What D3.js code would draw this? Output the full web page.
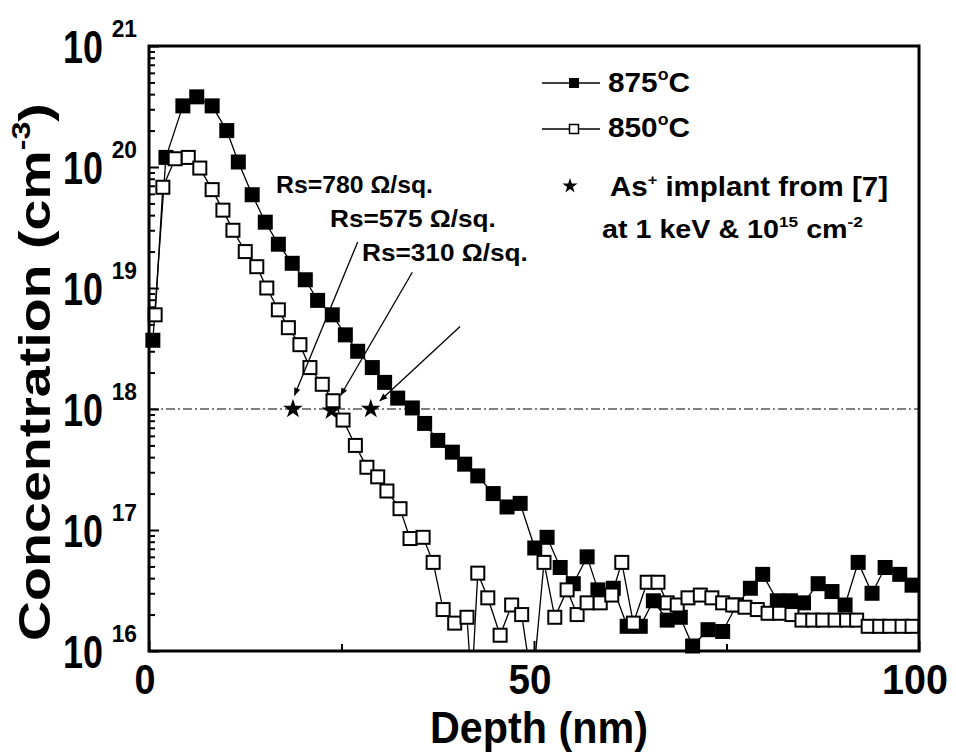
<!DOCTYPE html>
<html>
<head>
<meta charset="utf-8">
<script src="https://cdn.jsdelivr.net/npm/d3@7"></script>
<style>
  body { margin: 0; background: #fff; }
  svg { display: block; }
</style>
</head>
<body>
<div id="chart"></div>
<script>
// depth profiles (nm, cm^-3)
var depth875 = [0.5, 2.2, 4.4, 6.2, 8.2, 10.1, 11.6, 13.4, 15.1, 16.8,
  18.6, 20.3, 21.9, 23.8, 25.5, 27.1, 29.0, 30.6, 32.3, 34.2,
  35.8, 37.5, 39.4, 41.0, 42.7, 44.7, 46.5, 48.2, 50.1, 51.7,
  53.4, 55.1, 56.9, 58.3, 60.3, 62.1, 63.8, 65.5, 67.3, 69.0,
  70.6, 72.6, 74.5, 76.3, 78.1, 79.7, 81.6, 83.3, 85.0, 86.9,
  88.7, 90.4, 92.1, 93.9, 95.6, 97.5, 99.1];
var conc875 = [3.7e18, 1.2e20, 3.2e20, 3.8e20, 3.2e20, 2.0e20, 1.1e20, 5.9e19, 3.5e19, 2.3e19,
  1.6e19, 1.17e19, 7.9e18, 6.0e18, 4.1e18, 3.0e18, 2.2e18, 1.66e18, 1.23e18, 1.02e18,
  7.6e17, 5.5e17, 4.4e17, 3.5e17, 2.8e17, 2.0e17, 1.55e17, 1.66e17, 7.1e16, 8.7e16,
  4.9e16, 3.6e16, 6.0e16, 3.2e16, 3.3e16, 1.6e16, 1.6e16, 2.6e16, 1.8e16, 1.9e16,
  1.1e16, 1.5e16, 1.45e16, 2.4e16, 3.3e16, 4.3e16, 2.6e16, 2.6e16, 2.5e16, 3.6e16,
  3.1e16, 2.4e16, 5.4e16, 3.0e16, 4.9e16, 4.3e16, 3.5e16];

var depth850 = [0.8, 1.8, 3.4, 5.1, 6.6, 8.2, 9.6, 10.9, 12.5, 14.0,
  15.3, 16.8, 18.1, 19.6, 20.9, 22.5, 23.9, 25.2, 26.8, 28.3,
  29.7, 30.9, 32.6, 33.9, 35.6, 36.9, 38.2, 39.7, 41.3, 41.9,
  42.7, 44.0, 45.6, 47.1, 48.4, 49.8, 51.3, 52.7, 54.3, 55.6,
  56.9, 58.6, 60.1, 61.4, 62.9, 64.7, 66.1, 67.3, 68.6, 70.0,
  71.6, 73.1, 74.5, 75.8, 77.4, 79.0, 80.4, 81.9, 83.5, 84.8,
  86.2, 87.5, 89.1, 90.6, 91.9, 93.4, 94.9, 96.2, 97.8, 99.1];
var conc850 = [6.0e18, 6.8e19, 1.17e20, 1.2e20, 9.8e19, 6.5e19, 4.4e19, 3.0e19, 2.0e19, 1.5e19,
  1.0e19, 6.6e18, 4.7e18, 3.4e18, 2.2e18, 1.6e18, 1.17e18, 8.1e17, 5.0e17, 3.3e17,
  2.75e17, 2.1e17, 1.5e17, 8.5e16, 8.7e16, 5.4e16, 2.2e16, 1.7e16, 1.9e16, 5e15,
  4.4e16, 2.75e16, 1.35e16, 2.4e16, 2.0e16, 5e15, 5.4e16, 1.9e16, 3.2e16, 2.0e16,
  2.5e16, 2.5e16, 2.9e16, 5.4e16, 1.7e16, 3.7e16, 3.7e16, 2.5e16, 2.4e16, 2.75e16,
  2.9e16, 2.75e16, 2.5e16, 2.4e16, 2.3e16, 2.2e16, 2.05e16, 2.05e16, 2.0e16, 1.8e16,
  1.8e16, 1.8e16, 1.8e16, 1.8e16, 1.8e16, 1.6e16, 1.6e16, 1.6e16, 1.6e16, 1.6e16];

// As+ implant reference points [7], and arrow starts/ends
var starDepth = [18.7, 23.7, 28.8];
var starConc = [1e18, 0.97e18, 1e18];
var arrowFrom = [[27.1, 2.4e19], [34.2, 1.35e19], [40.4, 4.8e18]];
var arrowTo = [[18.9, 1.3e18], [24.9, 1.3e18], [30.0, 1.17e18]];

var decades = [16, 17, 18, 19, 20, 21];
var xTickLabels = [0, 50, 100];
var xMinor = [25, 75];

var width = 956, height = 753;
var FONT = "'Liberation Sans', Arial, Helvetica, sans-serif";

var svg = d3.select("#chart").append("svg")
    .attr("width", width)
    .attr("height", height);

var x = d3.scaleLinear().domain([0, 100]).range([149, 919]);
var y = d3.scaleLog().domain([1e16, 1e21]).range([651, 46]);

svg.append("clipPath").attr("id", "plotclip")
    .append("rect")
    .attr("x", 149).attr("y", 46).attr("width", 770).attr("height", 605);

// bold text, squeezed/stretched to the width seen in the figure
function addText(parts, o) {
    var g = svg.append("g");
    var t = g.append("text")
        .attr("font-family", FONT)
        .attr("font-weight", "bold")
        .attr("font-size", o.size)
        .attr("fill", "#000");
    var shift = 0;
    parts.forEach(function (p) {
        var sp = t.append("tspan").text(p[0]);
        var want = p[1] ? -(o.supDy || o.size * 0.42) : 0;
        if (p[1]) sp.attr("font-size", o.supSize || Math.round(o.size * 0.6));
        sp.attr("dy", want - shift);
        shift = want;
    });
    var bb = t.node().getBBox();
    var sx = o.w ? o.w / bb.width : (o.sx || 1);
    var off = o.anchor === "middle" ? bb.x + bb.width / 2
        : o.anchor === "end" ? bb.x + bb.width : bb.x;
    g.attr("transform", "translate(" + o.x + "," + o.y + ")" +
        (o.rotate ? " rotate(" + o.rotate + ")" : "") +
        " scale(" + sx + ",1) translate(" + (-off) + ",0)");
    return g;
}

// 1e18 dash-dot reference line
svg.append("line")
    .attr("x1", x(0)).attr("x2", x(100))
    .attr("y1", y(1e18)).attr("y2", y(1e18))
    .attr("stroke", "#000")
    .attr("stroke-width", 1.2)
    .attr("stroke-dasharray", "9,3,2,3");

// axes, ticks pointing inward
var minorY = [];
decades.slice(0, -1).forEach(function (e) {
    for (var k = 2; k < 10; k++) minorY.push(k * Math.pow(10, e));
});
svg.append("g")
    .attr("transform", "translate(149,0)")
    .call(d3.axisLeft(y).tickValues(minorY).tickSize(-6).tickFormat(""))
    .call(function (g) { g.select(".domain").remove(); })
    .selectAll("line").attr("stroke-width", 2);
svg.append("g")
    .attr("transform", "translate(149,0)")
    .call(d3.axisLeft(y).tickValues(decades.map(function (e) { return Math.pow(10, e); }))
        .tickSize(-10).tickFormat(""))
    .call(function (g) { g.select(".domain").remove(); })
    .selectAll("line").attr("stroke-width", 2);
svg.append("g")
    .attr("transform", "translate(0,651)")
    .call(d3.axisBottom(x).tickValues(xMinor).tickSize(-7).tickFormat(""))
    .call(function (g) { g.select(".domain").remove(); })
    .selectAll("line").attr("stroke-width", 2);
svg.append("g")
    .attr("transform", "translate(0,651)")
    .call(d3.axisBottom(x).tickValues(xTickLabels).tickSize(-10).tickFormat(""))
    .call(function (g) { g.select(".domain").remove(); })
    .selectAll("line").attr("stroke-width", 2);

// implant stars (under the data markers)
var star = d3.symbol().type(d3.symbolStar).size(120);
svg.append("g").selectAll("path")
    .data(starDepth)
    .enter().append("path")
    .attr("transform", function (d, i) { return "translate(" + x(d) + "," + y(starConc[i]) + ")"; })
    .attr("d", star)
    .attr("fill", "#000");

// series
var line = d3.line()
    .x(function (d) { return x(d[0]); })
    .y(function (d) { return y(d[1]); });

var s875 = depth875.map(function (d, i) { return [d, conc875[i]]; });
var s850 = depth850.map(function (d, i) { return [d, conc850[i]]; });

function drawSeries(data, filled, size) {
    svg.append("path")
        .datum(data)
        .attr("clip-path", "url(#plotclip)")
        .attr("fill", "none")
        .attr("stroke", "#000")
        .attr("stroke-width", 1.3)
        .attr("d", line);
    svg.append("g").selectAll("rect")
        .data(data.filter(function (d) { return d[1] >= 1e16; }))
        .enter().append("rect")
        .attr("x", function (d) { return x(d[0]) - size / 2; })
        .attr("y", function (d) { return y(d[1]) - size / 2; })
        .attr("width", size)
        .attr("height", size)
        .attr("fill", filled ? "#000" : "#fff")
        .attr("stroke", "#000")
        .attr("stroke-width", filled ? 0 : 2);
}
drawSeries(s875, true, 15);
drawSeries(s850, false, 13);

// arrows from the Rs labels
svg.append("defs").append("marker")
    .attr("id", "arrowhead")
    .attr("viewBox", "0 0 10 10")
    .attr("refX", 9).attr("refY", 5)
    .attr("markerWidth", 10).attr("markerHeight", 8)
    .attr("markerUnits", "userSpaceOnUse")
    .attr("orient", "auto")
    .append("path").attr("d", "M0,1L10,5L0,9Z").attr("fill", "#000");
svg.append("g").selectAll("line")
    .data(arrowFrom)
    .enter().append("line")
    .attr("x1", function (d) { return x(d[0]); })
    .attr("y1", function (d) { return y(d[1]); })
    .attr("x2", function (d, i) { return x(arrowTo[i][0]); })
    .attr("y2", function (d, i) { return y(arrowTo[i][1]); })
    .attr("stroke", "#000")
    .attr("stroke-width", 1.3)
    .attr("marker-end", "url(#arrowhead)");

// frame
svg.append("rect")
    .attr("x", 149).attr("y", 46)
    .attr("width", 770).attr("height", 605)
    .attr("fill", "none")
    .attr("stroke", "#000")
    .attr("stroke-width", 3);

// tick labels
decades.forEach(function (e) {
    addText([["10"]], { x: 103, y: y(Math.pow(10, e)) + 17, size: 47, w: 40, anchor: "end" });
    addText([[String(e)]], { x: 137, y: y(Math.pow(10, e)) - 9, size: 24, sx: 0.95, anchor: "end" });
});
var xLabW = { 0: 21, 50: 43, 100: 66 };
xTickLabels.forEach(function (v) {
    addText([[String(v)]], { x: x(v) - 4, y: 694, size: 43, w: xLabW[v], anchor: "middle" });
});

// axis titles
addText([["Depth (nm)"]], { x: 430, y: 743, size: 44, w: 218 });
addText([["Concentration (cm"], ["-3", true], [")"]],
    { x: 50, y: 641, size: 45, w: 538, rotate: -90, supSize: 26, supDy: 20 });

// Rs annotations
addText([["Rs=780 \u03A9/sq."]], { x: 276, y: 193, size: 23, w: 157 });
addText([["Rs=575 \u03A9/sq."]], { x: 330, y: 227, size: 23, w: 166 });
addText([["Rs=310 \u03A9/sq."]], { x: 362, y: 261, size: 23, w: 166 });

// legend
var leg = svg.append("g");
leg.append("line").attr("x1", 542).attr("x2", 600).attr("y1", 83).attr("y2", 83)
    .attr("stroke", "#000").attr("stroke-width", 1.3);
leg.append("rect").attr("x", 569).attr("y", 78).attr("width", 10).attr("height", 10).attr("fill", "#000");
leg.append("line").attr("x1", 542).attr("x2", 600).attr("y1", 129).attr("y2", 129)
    .attr("stroke", "#000").attr("stroke-width", 1.3);
leg.append("rect").attr("x", 569.5).attr("y", 124.5).attr("width", 9).attr("height", 9)
    .attr("fill", "#fff").attr("stroke", "#000").attr("stroke-width", 1.5);
leg.append("path").attr("transform", "translate(570,186)")
    .attr("d", d3.symbol().type(d3.symbolStar).size(70)).attr("fill", "#000");

addText([["875"], ["o", true], ["C"]], { x: 608, y: 92, size: 27, w: 82, supSize: 16, supDy: 12 });
addText([["850"], ["o", true], ["C"]], { x: 608, y: 137, size: 27, w: 82, supSize: 16, supDy: 12 });
addText([["As"], ["+", true], [" implant from [7]"]], { x: 610, y: 196, size: 27, w: 278, supSize: 15, supDy: 11 });
addText([["at 1 keV & 10"], ["15", true], [" cm"], ["-2", true]], { x: 602, y: 238, size: 25, w: 261, supSize: 15, supDy: 11 });
</script>
</body>
</html>
